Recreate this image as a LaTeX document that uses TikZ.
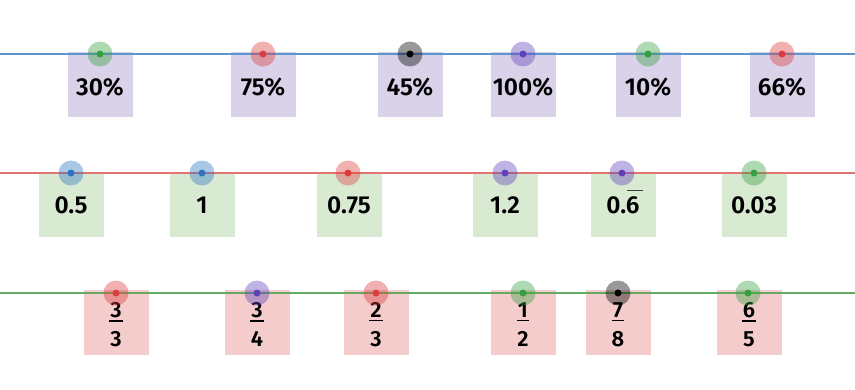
\documentclass[tikz,border=0pt]{standalone}
\usepackage{fontspec}
\setmainfont{Fira Sans}[UprightFont=* SemiBold]
\definecolor{lineblue}{RGB}{95,150,210}
\definecolor{linered}{RGB}{225,115,115}
\definecolor{linegreen}{RGB}{100,170,100}
\definecolor{boxpurple}{RGB}{217,210,233}
\definecolor{boxgreen}{RGB}{217,234,211}
\definecolor{boxpink}{RGB}{244,204,204}
\definecolor{cgreen}{RGB}{52,160,64}
\definecolor{cred}{RGB}{220,60,60}
\definecolor{cblack}{RGB}{0,0,0}
\definecolor{cpurple}{RGB}{95,65,185}
\definecolor{cblue}{RGB}{45,115,195}
\tikzset{
  rowline/.style={line width=2.8pt},
  sqbox/.style={rectangle, minimum width=65pt, minimum height=65pt, anchor=north, inner sep=0pt},
  halo/.style={circle, minimum size=25pt, inner sep=0pt, fill=#1, fill opacity=0.4},
  core/.style={circle, minimum size=7pt, inner sep=0pt, fill=#1},
  txt/.style={font=\fontsize{24.5}{27}\selectfont, inner sep=0pt},
  ftxt/.style={font=\fontsize{22}{25}\selectfont, inner sep=0pt},
}
\begin{document}
\begin{tikzpicture}[x=1pt,y=-1pt]
\useasboundingbox (0,0) rectangle (855,389);
% row 1
\foreach \x/\t [count=\i] in {100/30\%,263/75\%,410/45\%,523/100\%,648/10\%,782/66\%}{
  \node[sqbox, fill=boxpurple] (ba\i) at (\x,52) {};
  \node[txt] (ta\i) at (\x,87) {\t};
}
\coordinate (la0) at (0,54);
\coordinate (la1) at (855,54);
\draw[rowline, lineblue] (la0) -- (la1);
\foreach \x/\c [count=\i] in {100/cgreen,263/cred,410/cblack,523/cpurple,648/cgreen,782/cred}{
  \node[halo=\c] (ha\i) at (\x,54) {};
  \node[core=\c] (ca\i) at (\x,54) {};
}
% row 2
\foreach \x/\t [count=\i] in {71/0.5,202/1,349/0.75,505/1.2,623/0.6,754/0.03}{
  \node[sqbox, fill=boxgreen] (bb\i) at (\x,172) {};
  \node[txt] (tb\i) at (\x,205) {\t};
}
\coordinate (bar0) at (627,190.5);
\coordinate (bar1) at (643,190.5);
\draw[line width=0.8pt, black!75] (bar0) -- (bar1);
\coordinate (lb0) at (0,173);
\coordinate (lb1) at (855,173);
\draw[rowline, linered] (lb0) -- (lb1);
\foreach \x/\c [count=\i] in {71/cblue,202/cblue,348/cred,505/cpurple,622/cpurple,754/cgreen}{
  \node[halo=\c] (hb\i) at (\x,173) {};
  \node[core=\c] (cb\i) at (\x,173) {};
}
% row 3
\foreach \x/\n/\d [count=\i] in {116/3/3,257/3/4,376/2/3,523/1/2,618/7/8,749/6/5}{
  \node[sqbox, fill=boxpink] (bc\i) at (\x,290) {};
  \node[ftxt] (nc\i) at (\x,310) {\n};
  \node[ftxt] (dc\i) at (\x,339) {\d};
  \draw[line width=1.3pt] ([xshift=-1pt,yshift=-3pt]nc\i.south west) -- ([xshift=1pt,yshift=-3pt]nc\i.south east);
}
\coordinate (lc0) at (0,293);
\coordinate (lc1) at (855,293);
\draw[rowline, linegreen] (lc0) -- (lc1);
\foreach \x/\c [count=\i] in {116/cred,257/cpurple,376/cred,523/cgreen,618/cblack,748/cgreen}{
  \node[halo=\c] (hc\i) at (\x,293) {};
  \node[core=\c] (cc\i) at (\x,293) {};
}
\end{tikzpicture}
\end{document}
